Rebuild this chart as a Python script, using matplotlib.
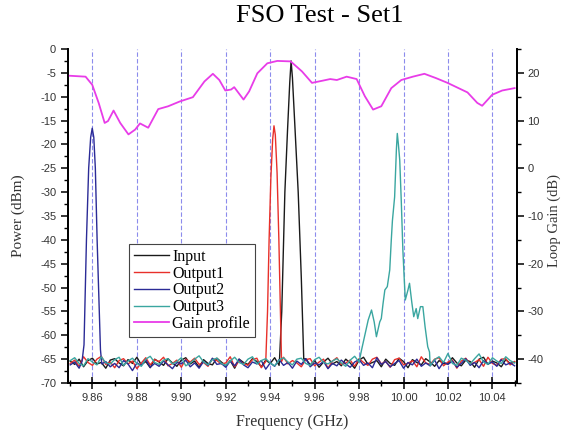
import numpy as np
import matplotlib
matplotlib.use("Agg")
import matplotlib.pyplot as plt
from matplotlib.ticker import MultipleLocator, FormatStrFormatter

plt.rcParams['axes.unicode_minus'] = False

# noise floor samples (dBm), evenly spread 9.85 .. 10.05 GHz
input_floor = [
    -65.4, -66.1, -65.0, -66.6, -65.3, -64.8, -66.0, -65.7, -66.9, -65.2,
    -64.9, -65.8, -66.4, -65.1, -65.9, -64.6, -66.2, -65.5, -66.8, -65.0,
    -65.6, -66.3, -64.9, -65.8, -66.5, -65.2, -64.7, -66.0, -65.4, -66.7,
    -65.1, -65.9, -66.2, -64.8, -65.6, -66.4, -65.3, -66.9, -65.0, -65.7,
    -66.1, -64.9, -65.5, -66.6, -65.2, -65.9, -64.7, -66.3, -65.4, -66.0,
    -65.1, -66.5, -65.8, -64.9, -66.2, -65.3, -66.7, -65.6, -64.8, -66.0,
    -65.5, -66.4, -65.0, -65.8, -66.9, -65.2, -64.6, -66.1, -65.7, -65.3,
    -66.6, -65.0, -65.9, -66.3, -64.8, -65.5, -66.8, -65.1, -65.7, -66.2,
    -64.9, -65.6, -66.5, -65.3, -65.9, -66.0, -64.7, -65.8, -66.4, -65.2,
    -65.5, -66.7, -65.0, -64.6, -66.1, -65.4, -65.8, -66.6, -65.1, -65.9,
    -65.6]
out1_floor = [
    -65.9, -65.2, -66.5, -64.5, -65.7, -66.3, -65.0, -64.4, -66.1, -65.6,
    -66.8, -65.3, -64.9, -66.0, -65.4, -67.0, -65.8, -64.7, -66.2, -65.1,
    -65.5, -64.6, -66.4, -65.9, -65.2, -66.7, -65.0, -65.6, -64.8, -66.1,
    -65.7, -66.5, -64.9, -65.3, -66.0, -65.8, -64.5, -66.6, -65.4, -65.9,
    -66.3, -65.1, -64.8, -66.8, -65.5, -65.0, -66.2, -65.7, -64.6, -66.0,
    -65.3, -65.8, -66.6, -65.1, -64.9, -66.4, -65.6, -65.0, -66.9, -65.4,
    -64.7, -66.1, -65.8, -65.2, -66.5, -64.9, -65.7, -66.3, -65.0, -64.6,
    -66.0, -65.5, -66.7, -65.1, -64.8, -66.2, -65.9, -65.3, -66.6, -64.5,
    -65.8, -66.1, -65.0, -64.7, -66.4, -65.6, -65.2, -66.9, -65.4, -64.8,
    -66.0, -65.7, -65.1, -66.5, -64.6, -65.9, -66.3, -65.0, -64.9, -66.2,
    -65.5]
out2_floor = [
    -66.2, -65.6, -66.9, -65.0, -66.4, -65.7, -66.1, -67.2, -65.5, -66.6,
    -65.9, -66.8, -65.3, -66.0, -67.4, -65.8, -66.3, -65.1, -66.7, -65.9,
    -66.5, -65.4, -66.2, -67.0, -65.7, -66.0, -65.2, -66.6, -65.8, -66.9,
    -65.5, -66.3, -64.8, -66.1, -65.9, -66.7, -65.4, -66.4, -65.0, -66.2,
    -66.8, -65.6, -66.0, -65.3, -67.1, -65.8, -66.5, -65.1, -66.3, -65.7,
    -66.9, -65.4, -66.1, -64.9, -66.6, -65.8, -66.2, -65.5, -67.0, -65.9,
    -66.4, -65.2, -66.0, -66.7, -65.6, -65.1, -66.3, -65.8, -66.8, -64.7,
    -66.1, -65.5, -66.6, -65.9, -65.3, -66.9, -65.7, -66.2, -65.0, -66.5,
    -65.8, -66.4, -65.2, -67.0, -65.6, -66.1, -65.4, -66.7, -65.9, -64.9,
    -66.3, -65.7, -66.8, -65.3, -66.0, -65.6, -66.5, -65.1, -66.2, -65.8,
    -66.4]
out3_floor = [
    -65.3, -64.7, -65.9, -66.4, -64.9, -65.6, -66.2, -64.5, -65.8, -66.0,
    -65.1, -64.6, -66.3, -65.4, -64.8, -65.9, -66.5, -65.0, -64.4, -65.7,
    -66.1, -65.2, -64.9, -66.0, -65.5, -64.7, -66.4, -65.8, -65.0, -64.3,
    -65.6, -66.2, -65.1, -64.8, -65.9, -66.3, -65.4, -64.6, -65.7, -66.1,
    -65.0, -64.5, -66.0, -65.3, -64.9, -65.8, -66.4, -65.2, -64.7, -65.6,
    -66.2, -65.0, -64.8, -65.9, -66.3, -65.1, -64.6, -65.7, -66.0, -65.4,
    -64.9, -65.8, -66.5, -65.2, -64.4, -65.6, -66.1, -65.0, -64.7, -65.9,
    -66.3, -65.3, -64.8, -65.7, -66.2, -65.0, -63.9, -65.5, -66.0, -64.6,
    -65.8, -66.4, -65.1, -64.5, -65.7, -63.8, -65.9, -66.3, -64.8, -65.2,
    -66.0, -64.9, -63.9, -65.6, -66.1, -64.7, -65.4, -65.9, -64.5, -65.3,
    -65.8]

# peak shapes (GHz, dBm)
input_pk_f = [9.9442, 9.9452, 9.9466, 9.9478, 9.9488, 9.9494, 9.9500, 9.9512, 9.9526, 9.9540, 9.9551]
input_pk_p = [-65.0, -55.0, -30.0, -17.0, -7.0, -2.5, -6.0, -17.0, -30.0, -48.0, -65.0]
out1_pk_f = [9.9380, 9.9388, 9.9395, 9.9403, 9.9411, 9.9417, 9.9423, 9.9431, 9.9439, 9.9446, 9.9451]
out1_pk_p = [-65.5, -55.0, -40.0, -27.0, -19.0, -16.1, -18.0, -26.0, -40.0, -55.0, -65.5]
out2_pk_f = [9.8553, 9.8562, 9.8573, 9.8583, 9.8592, 9.8599, 9.8606, 9.8613, 9.8621, 9.8636, 9.8642]
out2_pk_p = [-65.5, -62.0, -40.0, -25.0, -18.5, -16.6, -18.5, -25.0, -40.0, -63.0, -66.0]
out3_pk_f = [9.9811, 9.9841, 9.9856, 9.9868, 9.9878, 9.9893, 9.9900, 9.9908, 9.9916, 9.9927,
             9.9938, 9.9945, 9.9950, 9.9960, 9.9964, 9.9968, 9.9972, 9.9977, 9.9983, 9.9990,
             9.9997, 10.0002, 10.0008, 10.0020, 10.0027, 10.0037, 10.0046, 10.0057, 10.0064,
             10.0076, 10.0087, 10.0097, 10.0109, 10.0117]
out3_pk_p = [-63.1, -56.8, -54.7, -57.2, -60.3, -57.2, -56.5, -53.3, -50.5, -49.8,
             -46.3, -40.0, -36.0, -31.0, -26.0, -21.0, -17.7, -20.0, -23.3, -32.0,
             -42.0, -47.0, -52.6, -50.5, -49.1, -53.0, -56.1, -54.4, -56.5,
             -54.0, -54.0, -58.2, -62.4, -63.5]

# loop gain profile (GHz, dB)
gain_f = [9.8494, 9.8569, 9.8599, 9.8628, 9.8655, 9.8670, 9.8695, 9.8725, 9.8762, 9.8792,
          9.8814, 9.8851, 9.8896, 9.8941, 9.8993, 9.9052, 9.9104, 9.9142, 9.9171, 9.9198,
          9.9224, 9.9238, 9.9280, 9.9305, 9.9342, 9.9387, 9.9432, 9.9492, 9.9543, 9.9588,
          9.9640, 9.9670, 9.9700, 9.9744, 9.9789, 9.9826, 9.9863, 9.9900, 9.9945, 9.9990,
          10.0042, 10.0094, 10.0146, 10.0198, 10.0288, 10.0332, 10.0354, 10.0399, 10.0444,
          10.0500]
gain_db = [19.4, 19.2, 17.5, 13.7, 9.5, 9.9, 12.1, 9.5, 7.1, 8.1,
           9.4, 8.5, 12.4, 13.0, 14.0, 14.9, 18.2, 19.8, 18.5, 16.3,
           16.5, 17.0, 14.4, 16.1, 19.9, 22.0, 22.5, 22.4, 20.3, 17.9,
           18.4, 18.7, 18.5, 19.2, 18.7, 15.1, 12.3, 13.0, 16.8, 18.5,
           19.2, 19.8, 18.9, 17.9, 15.9, 13.7, 13.1, 15.4, 16.3,
           16.8]


def trace(floor, pk_f, pk_p):
    ff = np.linspace(9.85, 10.05, len(floor))
    fl = np.array(floor)
    keep = (ff < pk_f[0]) | (ff > pk_f[-1])
    f = np.concatenate([ff[keep], pk_f])
    p = np.concatenate([fl[keep], pk_p])
    order = np.argsort(f)
    return f[order], p[order]


fig = plt.figure(figsize=(5.63, 4.32), dpi=100)
ax = fig.add_axes([0.1208, 0.1134, 0.7972, 0.7732])
ax2 = ax.twinx()

for xv in np.arange(9.86, 10.041, 0.02):
    ax.axvline(xv, color='#7070e8', lw=0.8, ls=(0, (4, 2)), alpha=0.8, zorder=0)

series = [
    ("Input", input_floor, input_pk_f, input_pk_p, '#1a1a1a'),
    ("Output1", out1_floor, out1_pk_f, out1_pk_p, '#e8302a'),
    ("Output2", out2_floor, out2_pk_f, out2_pk_p, '#2b2b96'),
    ("Output3", out3_floor, out3_pk_f, out3_pk_p, '#3aa6a0'),
]
handles = []
for name, fl, pf, pp, col in series:
    f, p = trace(fl, pf, pp)
    h, = ax.plot(f, p, color=col, lw=1.0, label=name)
    handles.append(h)

hg, = ax2.plot(gain_f, gain_db, color='#e83ce8', lw=1.3, label="Gain profile")
handles.append(hg)

ax.set_xlim(9.849, 10.051)
ax.set_ylim(-70, 0)
ax2.set_ylim(-45, 25)

ax.xaxis.set_major_locator(MultipleLocator(0.02))
ax.xaxis.set_minor_locator(MultipleLocator(0.01))
ax.xaxis.set_major_formatter(FormatStrFormatter('%.2f'))
ax.yaxis.set_major_locator(MultipleLocator(5))
ax.yaxis.set_minor_locator(MultipleLocator(2.5))
ax2.yaxis.set_major_locator(MultipleLocator(10))
ax2.yaxis.set_minor_locator(MultipleLocator(5))

for a in (ax, ax2):
    a.spines['top'].set_visible(False)
    for s in a.spines.values():
        s.set_linewidth(1.3)
    a.tick_params(which='major', length=5, width=1.1, labelsize=8, labelcolor='#333333')
    a.tick_params(which='minor', length=3, width=1.0)
    for lab in a.get_xticklabels() + a.get_yticklabels():
        lab.set_fontfamily('Liberation Sans')
ax.tick_params(axis='x', which='both', direction='inout')
ax.tick_params(axis='x', which='major', length=8)
ax.tick_params(axis='x', which='minor', length=5)
ax2.tick_params(axis='y', which='major', pad=2.5)

fig.text(0.568, 0.963, "FSO Test - Set1", ha='center', va='center',
         fontsize=19, family='Liberation Serif')
fig.text(0.032, 0.5, "Power (dBm)", rotation=90, ha='center', va='center',
         fontsize=11, family='Liberation Serif', color='#333333')
fig.text(0.985, 0.49, "Loop Gain (dB)", rotation=90, ha='center', va='center',
         fontsize=10.5, family='Liberation Serif', color='#333333')
fig.text(0.519, 0.022, "Frequency (GHz)", ha='center', va='center',
         fontsize=11.5, family='Liberation Serif', color='#333333')

leg = ax2.legend(handles=handles, loc='upper left', bbox_to_anchor=(0.136, 0.416),
                 fancybox=False, framealpha=1, edgecolor='#444444',
                 prop={'family': 'Liberation Serif', 'size': 11.5},
                 handlelength=2.2, handletextpad=0.2, labelspacing=0.05,
                 borderpad=0.3, borderaxespad=0)
leg.get_frame().set_linewidth(0.8)

fig.savefig("out.png", dpi=100)
